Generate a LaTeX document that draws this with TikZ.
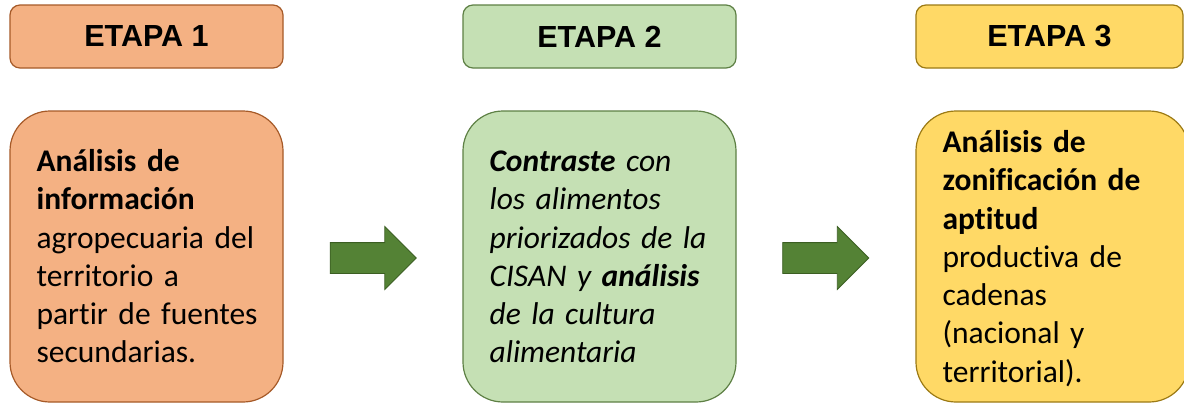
\documentclass[tikz,border=0pt]{standalone}
\usepackage{fontspec}
\setmainfont{Carlito}[Ligatures=NoCommon]
\newfontfamily\titulofont{Liberation Sans}
\usepackage{tikz}
\usetikzlibrary{positioning,shapes.arrows,calc}
\definecolor{naranja}{HTML}{F4B183}
\definecolor{naranjaborde}{HTML}{A65A28}
\definecolor{verde}{HTML}{C5E0B4}
\definecolor{verdeborde}{HTML}{5E8045}
\definecolor{amarillo}{HTML}{FFD966}
\definecolor{amarilloborde}{HTML}{9C7A14}
\definecolor{flecha}{HTML}{548235}
\definecolor{flechaborde}{HTML}{3B5E22}

\begin{document}
\begin{tikzpicture}[x=1pt,y=-1pt,node distance=453pt,on grid,
    etapa/.style={draw,line width=1.2pt,rounded corners=10pt,minimum width=273pt,
      minimum height=63pt,inner sep=0pt,font=\titulofont\fontsize{30.5}{36}\selectfont\bfseries},
    caja/.style={draw,line width=1.2pt,rounded corners=40pt,minimum width=273pt,
      minimum height=291pt,inner sep=0pt},
    texto/.style={inner sep=0pt,text width=260pt,align=left,
      font=\fontsize{31.5}{38.3}\selectfont},
    paso/.style={single arrow,draw=flechaborde,fill=flecha,line width=0.8pt,
      minimum height=86pt,text height=15pt,text depth=15pt,
      single arrow head extend=16pt,inner sep=0pt}]
  \clip (0,0) rectangle (1184,402);
  \fill[white] (0,0) rectangle (1184,402);

  % titulos de las etapas
  \node[etapa,fill=naranja,draw=naranjaborde] (t1) at (146.5,36.5) {ETAPA 1};
  \node[etapa,fill=verde,draw=verdeborde] (t2) [right = of t1] {ETAPA 2};
  \node[etapa,fill=amarillo,draw=amarilloborde,minimum width=267pt] (t3)
    [right = 450pt of t2] {ETAPA 3};

  % cajas de contenido
  \node[caja,fill=naranja,draw=naranjaborde] (c1) [below = 220pt of t1] {};
  \node[caja,fill=verde,draw=verdeborde] (c2) [below = 220pt of t2] {};
  \node[caja,fill=amarillo,draw=amarilloborde] (c3) [right = of c2] {};

  \node[texto,anchor=base west] (x1) at ([shift={(27pt,-61pt)}]c1.north west)
    {\textbf{Análisis de}\\ \textbf{información}\\ agropecuaria del\\
     territorio a\\ partir de fuentes\\ secundarias.};
  \node[texto,anchor=base west,font=\fontsize{31.5}{38.3}\selectfont\itshape] (x2)
    at ([shift={(27pt,-61pt)}]c2.north west)
    {\textbf{Contraste} con\\ los alimentos\\ priorizados de la\\
     CISAN y \textbf{análisis}\\ de la cultura\\ alimentaria};
  \node[texto,anchor=base west] (x3) at ([shift={(27pt,-42pt)}]c3.north west)
    {\textbf{Análisis de}\\ \textbf{zonificación de}\\ \textbf{aptitud}\\
     productiva de\\ cadenas\\ (nacional y\\ territorial).};

  % flechas entre etapas
  \node[paso] (f1) at ($(c1.east)!0.5!(c2.west)+(-7.5,1.5)$) {};
  \node[paso] (f2) at ($(c2.east)!0.5!(c3.west)+(-8,1.5)$) {};
\end{tikzpicture}
\end{document}
